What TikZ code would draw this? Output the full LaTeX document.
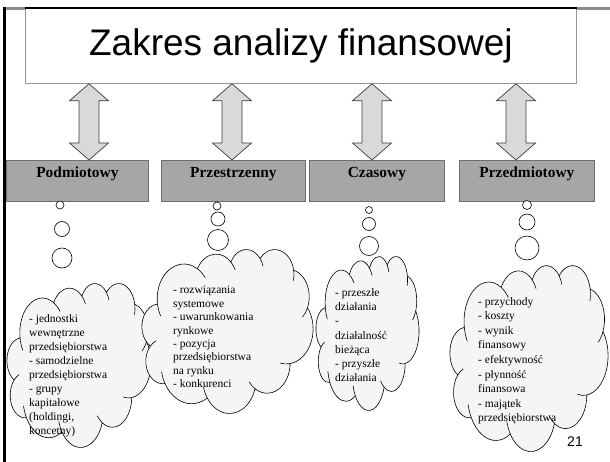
\documentclass[tikz,border=0pt]{standalone}
\usepackage{fontspec}
\setmainfont{Liberation Serif}
\newfontfamily\arialfont{Liberation Sans}
\usetikzlibrary{calc}

\definecolor{boxgrey}{RGB}{166,166,166}
\definecolor{boxedge}{RGB}{110,110,110}
\definecolor{arrowfill}{RGB}{217,217,217}
\definecolor{arrowedge}{RGB}{60,60,60}
\definecolor{cloudfill}{RGB}{245,245,245}
\definecolor{frametop}{RGB}{140,140,140}
\definecolor{titleedge}{RGB}{150,150,150}

% double-headed block arrow between two points on one vertical line
\newcommand\dblarrow[2]{%
  \draw[blockarrow] let \p1=(#1), \p2=(#2) in
    (\x1,\y1) -- (\x1+19.5pt,\y1-17pt) -- (\x1+10pt,\y1-17pt)
    -- (\x1+10pt,\y2+17pt) -- (\x1+19.5pt,\y2+17pt) -- (\x2,\y2)
    -- (\x1-19.5pt,\y2+17pt) -- (\x1-10pt,\y2+17pt)
    -- (\x1-10pt,\y1-17pt) -- (\x1-19.5pt,\y1-17pt) -- cycle;}

% thought cloud of eleven lobes in a 432 x 432 grid, placed in the box
% with top-left corner (#1,#2), width #3 and height #4
\newcommand\thoughtcloud[4]{%
  \pgfmathsetmacro\cloudux{#3/432}%
  \pgfmathsetmacro\clouduy{#4/432}%
  \begin{scope}[shift={(#1,#2)}, x=\cloudux pt, y=-\clouduy pt]
    \filldraw[cloudline] (39.00,143.70)
      arc[start angle=-187.74, delta angle=128.10, x radius=67.53, y radius=91.90]
      arc[start angle=-152.02, delta angle=106.57, x radius=53.33, y radius=72.67]
      arc[start angle=-153.49, delta angle=116.17, x radius=43.65, y radius=59.45]
      arc[start angle=-139.81, delta angle=129.63, x radius=48.57, y radius=65.95]
      arc[start angle=-74.78,  delta angle=98.01,  x radius=53.33, y radius=72.73]
      arc[start angle=-37.48,  delta angle=119.33, x radius=67.75, y radius=92.20]
      arc[start angle=0.46,    delta angle=121.57, x radius=57.85, y radius=78.67]
      arc[start angle=16.87,   delta angle=129.31, x radius=67.52, y radius=92.15]
      arc[start angle=59.05,   delta angle=91.07,  x radius=77.20, y radius=105.43]
      arc[start angle=-276.71, delta angle=139.71, x radius=43.60, y radius=59.18]
      arc[start angle=-239.75, delta angle=143.88, x radius=43.45, y radius=59.45]
      -- cycle;
    % inner hooks where the lobes meet
    \draw[cloudhook] (140.05,52.03)  arc[start angle=-59.64, delta angle=22, x radius=67.53, y radius=91.90];
    \draw[cloudhook] (224.56,34.33)  arc[start angle=-45.45, delta angle=20, x radius=53.33, y radius=72.67];
    \draw[cloudhook] (298.33,24.83)  arc[start angle=-37.32, delta angle=22, x radius=43.65, y radius=59.45];
    \draw[cloudhook] (383.25,55.74)  arc[start angle=-10.18, delta angle=24, x radius=48.57, y radius=65.95];
    \draw[cloudhook] (418.26,154.60) arc[start angle=23.23,  delta angle=24, x radius=53.33, y radius=72.73];
    \draw[cloudhook] (374.11,301.97) arc[start angle=81.85,  delta angle=22, x radius=67.75, y radius=92.20];
    \draw[cloudhook] (285.58,368.04) arc[start angle=122.03, delta angle=20, x radius=57.85, y radius=78.67];
    \draw[cloudhook] (164.86,392.59) arc[start angle=146.18, delta angle=20, x radius=67.52, y radius=92.15];
    \draw[cloudhook] (58.23,354.70)  arc[start angle=150.12, delta angle=18, x radius=77.20, y radius=105.43];
    \draw[cloudhook] (21.25,255.56)  arc[start angle=-137.00, delta angle=24, x radius=43.60, y radius=59.18];
    \draw[cloudhook] (39.00,143.70)  arc[start angle=-187.74, delta angle=-22, x radius=67.53, y radius=91.90];
  \end{scope}}

\begin{document}
\begin{tikzpicture}[x=1pt,y=-1pt,
  catbox/.style={draw=boxedge, fill=boxgrey, line width=0.8pt,
    minimum height=41pt, inner sep=0pt, text height=17pt, text depth=24pt,
    anchor=north west, font=\fontsize{15.4}{18}\selectfont\bfseries},
  blockarrow/.style={draw=arrowedge, fill=arrowfill, line width=0.7pt, line join=miter},
  bubble/.style={circle, draw, fill=white, inner sep=0pt, line width=0.6pt},
  cloudline/.style={draw=black, fill=cloudfill, line width=0.6pt},
  cloudhook/.style={draw=black, line width=0.6pt},
  cloudtext/.style={align=left, inner sep=0pt, anchor=north west,
    font=\fontsize{11.5}{14}\selectfont}
]
\useasboundingbox (0,0) rectangle (610,462);

% page frame
\draw[frametop, line width=2.2pt] (3,8.5) -- (610,8.5);
\draw[black, line width=2.6pt] (4.5,7.4) -- (4.5,462);

% title
\node[draw=titleedge, fill=white, line width=0.8pt, minimum width=551pt,
  minimum height=75pt, inner sep=0pt, anchor=north west,
  font=\arialfont\fontsize{37}{44}\selectfont] (title) at (25,8) {Zakres analizy finansowej};
\draw[black, line width=2.2pt] (title.north west) -- (title.north east);

% categories
\node[catbox, minimum width=142pt] (pod) at (6,160) {Podmiotowy};
\node[catbox, minimum width=144pt] (prz) at (161,160) {Przestrzenny};
\node[catbox, minimum width=135pt] (cza) at (309,160) {Czasowy};
\node[catbox, minimum width=135pt] (prd) at (459,160) {Przedmiotowy};

% arrows from the title to each category
\coordinate (x1) at (89,0);
\coordinate (x2) at (232,0);
\coordinate (x3) at (372,0);
\coordinate (x4) at (516,0);
\dblarrow{x1 |- title.south}{x1 |- pod.north}
\dblarrow{x2 |- title.south}{x2 |- prz.north}
\dblarrow{x3 |- title.south}{x3 |- cza.north}
\dblarrow{x4 |- title.south}{x4 |- prd.north}

% thought bubbles
\node[bubble, minimum size=8pt]  (p1a) at (60,205) {};
\node[bubble, minimum size=15pt] (p1b) at (62,229) {};
\node[bubble, minimum size=20pt] (p1c) at (62,258) {};

\node[bubble, minimum size=8pt]  (p2a) at (217,206) {};
\node[bubble, minimum size=14pt] (p2b) at (218,219) {};
\node[bubble, minimum size=21pt] (p2c) at (218,240) {};

\node[bubble, minimum size=7pt]  (p3a) at (369,210) {};
\node[bubble, minimum size=13pt] (p3b) at (369,224) {};
\node[bubble, minimum size=19pt] (p3c) at (369,246) {};

\node[bubble, minimum size=9pt]  (p4a) at (527,205) {};
\node[bubble, minimum size=16pt] (p4b) at (527,222) {};
\node[bubble, minimum size=24pt] (p4c) at (527,248) {};

% clouds
\thoughtcloud{7}{283}{144}{164}
\thoughtcloud{142}{249}{171}{164}
\thoughtcloud{316}{256}{103}{154}
\thoughtcloud{450}{265}{158}{186}

\node[cloudtext] (t1) at (29,314) {- jednostki\\wewnętrzne\\przedsiębiorstwa\\- samodzielne\\przedsiębiorstwa\\- grupy\\kapitałowe\\(holdingi,\\koncetny)};
\node[cloudtext, font=\fontsize{11.5}{13.4}\selectfont] (t2) at (173,286) {- rozwiązania\\systemowe\\- uwarunkowania\\rynkowe\\- pozycja\\przedsiębiorstwa\\na rynku\\- konkurenci};
\node[cloudtext, font=\fontsize{11.5}{14.3}\selectfont] (t3) at (335,288) {- przeszłe\\działania\\-\\działalność\\bieżąca\\- przyszłe\\działania};
\node[cloudtext, font=\fontsize{11.5}{14.6}\selectfont] (t4) at (478,297) {- przychody\\- koszty\\- wynik\\finansowy\\- efektywność\\- płynność\\finansowa\\- majątek\\przedsiębiorstwa};

% page number
\node[font=\arialfont\fontsize{14}{16}\selectfont, inner sep=0pt] (pg) at (575,442) {21};
\end{tikzpicture}
\end{document}
